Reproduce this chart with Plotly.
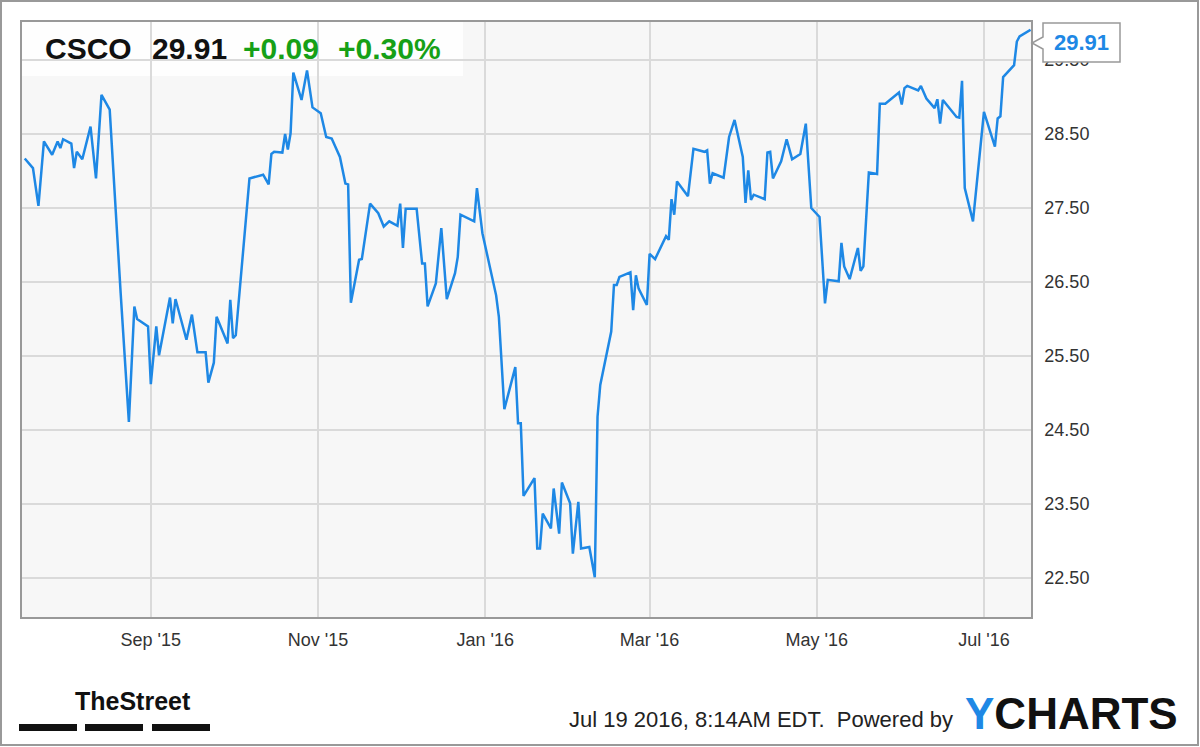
import plotly.graph_objects as go

# CSCO daily close
dates = [
    "2015-07-17", "2015-07-20", "2015-07-22", "2015-07-24", "2015-07-27", "2015-07-29",
    "2015-07-30", "2015-07-31", "2015-08-03", "2015-08-04", "2015-08-05", "2015-08-07",
    "2015-08-10", "2015-08-12", "2015-08-14", "2015-08-17", "2015-08-21", "2015-08-24",
    "2015-08-26", "2015-08-27", "2015-08-31", "2015-09-01", "2015-09-03", "2015-09-04",
    "2015-09-08", "2015-09-09", "2015-09-10", "2015-09-14", "2015-09-16", "2015-09-18",
    "2015-09-21", "2015-09-22", "2015-09-24", "2015-09-25", "2015-09-29", "2015-09-30",
    "2015-10-01", "2015-10-02", "2015-10-07", "2015-10-12", "2015-10-14", "2015-10-15",
    "2015-10-16", "2015-10-19", "2015-10-20", "2015-10-21", "2015-10-22", "2015-10-23",
    "2015-10-26", "2015-10-28", "2015-10-30", "2015-11-02", "2015-11-04", "2015-11-06",
    "2015-11-09", "2015-11-11", "2015-11-12", "2015-11-13", "2015-11-16", "2015-11-17",
    "2015-11-20", "2015-11-23", "2015-11-25", "2015-11-27", "2015-11-30", "2015-12-01",
    "2015-12-02", "2015-12-03", "2015-12-07", "2015-12-09", "2015-12-10", "2015-12-11",
    "2015-12-14", "2015-12-16", "2015-12-18", "2015-12-21", "2015-12-22", "2015-12-23",
    "2015-12-28", "2015-12-29", "2015-12-31", "2016-01-05", "2016-01-06", "2016-01-08",
    "2016-01-12", "2016-01-13", "2016-01-14", "2016-01-15", "2016-01-19", "2016-01-20",
    "2016-01-21", "2016-01-22", "2016-01-25", "2016-01-26", "2016-01-28", "2016-01-29",
    "2016-02-01", "2016-02-02", "2016-02-04", "2016-02-05", "2016-02-08", "2016-02-10",
    "2016-02-11", "2016-02-12", "2016-02-16", "2016-02-17", "2016-02-18", "2016-02-19",
    "2016-02-23", "2016-02-24", "2016-02-25", "2016-02-26", "2016-02-29", "2016-03-01",
    "2016-03-03", "2016-03-07", "2016-03-08", "2016-03-09", "2016-03-10", "2016-03-11",
    "2016-03-15", "2016-03-17", "2016-03-21", "2016-03-22", "2016-03-23", "2016-03-24",
    "2016-03-28", "2016-03-30", "2016-04-01", "2016-04-04", "2016-04-05", "2016-04-06",
    "2016-04-07", "2016-04-08", "2016-04-12", "2016-04-13", "2016-04-14", "2016-04-15",
    "2016-04-18", "2016-04-20", "2016-04-22", "2016-04-25", "2016-04-27", "2016-04-29",
    "2016-05-02", "2016-05-04", "2016-05-05", "2016-05-09", "2016-05-10", "2016-05-11",
    "2016-05-13", "2016-05-16", "2016-05-17", "2016-05-18", "2016-05-20", "2016-05-23",
    "2016-05-24", "2016-05-26", "2016-05-31", "2016-06-01", "2016-06-02", "2016-06-03",
    "2016-06-07", "2016-06-08", "2016-06-10", "2016-06-13", "2016-06-14", "2016-06-15",
    "2016-06-16", "2016-06-21", "2016-06-22", "2016-06-23", "2016-06-24", "2016-06-27",
    "2016-07-01", "2016-07-05", "2016-07-06", "2016-07-07", "2016-07-08", "2016-07-12",
    "2016-07-13", "2016-07-14", "2016-07-18",
]
prices = [
    28.17, 28.04, 27.53, 28.40, 28.22, 28.40,
    28.31, 28.43, 28.37, 28.04, 28.26, 28.16,
    28.60, 27.90, 29.03, 28.83, 26.35, 24.61,
    26.17, 26.00, 25.90, 25.12, 25.90, 25.51,
    26.29, 25.94, 26.27, 25.72, 26.06, 25.55,
    25.55, 25.14, 25.41, 26.03, 25.67, 26.26,
    25.74, 25.78, 27.90, 27.95, 27.82, 28.23,
    28.26, 28.25, 28.50, 28.29, 28.51, 29.33,
    28.96, 29.36, 28.86, 28.78, 28.46, 28.44,
    28.19, 27.83, 27.82, 26.22, 26.80, 26.81,
    27.56, 27.43, 27.25, 27.32, 27.26, 27.56,
    26.96, 27.49, 27.49, 26.75, 26.75, 26.17,
    26.48, 27.23, 26.27, 26.62, 26.84, 27.41,
    27.32, 27.77, 27.16, 26.32, 26.03, 24.78,
    25.35, 24.59, 24.59, 23.61, 23.85, 22.90,
    22.90, 23.37, 23.17, 23.71, 23.10, 23.79,
    23.51, 22.83, 23.53, 22.90, 22.92, 22.51,
    24.68, 25.11, 25.83, 26.46, 26.46, 26.57,
    26.63, 26.12, 26.59, 26.41, 26.19, 26.88,
    26.81, 27.12, 27.07, 27.62, 27.41, 27.86,
    27.66, 28.30, 28.26, 28.28, 27.83, 27.97,
    27.91, 28.46, 28.69, 28.19, 27.57, 28.01,
    27.61, 27.68, 27.62, 28.25, 28.26, 27.90,
    28.13, 28.43, 28.16, 28.23, 28.64, 27.50,
    27.38, 26.21, 26.53, 26.51, 27.03, 26.71,
    26.54, 26.96, 26.65, 26.71, 27.98, 27.96,
    28.91, 28.91, 29.06, 28.90, 29.12, 29.15,
    29.09, 29.15, 28.98, 28.85, 28.97, 28.64,
    28.96, 28.73, 28.72, 29.22, 27.77, 27.32,
    28.80, 28.33, 28.71, 28.74, 29.27, 29.43,
    29.75, 29.82, 29.91,
]

ticker = "CSCO"
last_price = "29.91"
change = "+0.09"
change_pct = "+0.30%"
y_ticks = [22.5, 23.5, 24.5, 25.5, 26.5, 27.5, 28.5, 29.5]
stamp = "Jul 19 2016, 8:14AM EDT.  Powered by"

BLUE = "#1e88e5"
GREEN = "#16a016"
FONT = "Liberation Sans, Arial, sans-serif"

# plot area in pixels: x 22..1031, y 22..617
L, R, T, B = 22, 1031, 22, 617
W, H = R - L, B - T


def px(x):
    return (x - L) / W


def py(y):
    return (B - y) / H


fig = go.Figure()
fig.add_trace(go.Scatter(
    x=dates, y=prices, mode="lines",
    line=dict(color=BLUE, width=2.5),
    hoverinfo="x+y", showlegend=False,
))

shapes = [
    # header backdrop
    dict(type="rect", xref="paper", yref="paper", layer="between",
         x0=px(22), x1=px(463), y0=py(76), y1=py(22),
         fillcolor="rgba(255,255,255,0.8)", line_width=0),
    # outer frame
    dict(type="rect", xref="paper", yref="paper",
         x0=px(1), x1=px(1198), y0=py(745), y1=py(1),
         line=dict(color="#999", width=2)),
    # callout with pointer
    dict(type="path", xref="paper", yref="paper", layer="above",
         path=(f"M {px(1043)} {py(23)} L {px(1120)} {py(23)} L {px(1120)} {py(62)} "
               f"L {px(1043)} {py(62)} L {px(1043)} {py(49)} L {px(1032)} {py(43)} "
               f"L {px(1043)} {py(37)} Z"),
         fillcolor="white", line=dict(color="#999", width=1.5)),
]
# TheStreet bars
for x0, x1 in [(19, 77), (85, 143), (152, 210)]:
    shapes.append(dict(type="rect", xref="paper", yref="paper",
                       x0=px(x0), x1=px(x1), y0=py(731), y1=py(724),
                       fillcolor="#111", line_width=0))


def label(text, x, y, size, color="#111", anchor="left"):
    return dict(text=text, x=px(x), y=py(y), xref="paper", yref="paper",
                xanchor=anchor, yanchor="middle", showarrow=False,
                font=dict(size=size, color=color, family=FONT))


annotations = [
    label(f"<b>{ticker}</b>", 43, 49, 30),
    label(f"<b>{last_price}</b>", 150, 49, 30),
    label(f"<b>{change}</b>", 241, 49, 30, GREEN),
    label(f"<b>{change_pct}</b>", 336, 49, 30, GREEN),
    label(f"<b>{last_price}</b>", 1081, 43, 22, BLUE, "center"),
    label("<b>TheStreet</b>", 133, 701, 25, anchor="center"),
    label(stamp, 955, 719, 22, "#222", "right"),
    label(f"<b><span style='color:{BLUE}'>Y</span>CHARTS</b>", 963, 713, 44),
]

fig.update_layout(
    width=1200, height=747,
    margin=dict(l=L, r=1200 - R, t=T, b=747 - B),
    paper_bgcolor="white", plot_bgcolor="#f7f7f7",
    font=dict(family=FONT, size=18, color="#333"),
    shapes=shapes, annotations=annotations,
    hovermode="x",
)
fig.update_xaxes(
    type="date", range=["2015-07-16", "2016-07-18 04:00"],
    tick0="2015-09-01", dtick="M2", tickformat="%b '%y",
    showgrid=True, gridcolor="#dadada", gridwidth=1.5,
    showline=True, linecolor="#999", linewidth=1.5, mirror=True,
    ticks="", tickfont=dict(size=18, color="#333"), ticklabelstandoff=6,
)
fig.update_yaxes(
    side="right", range=[21.973, 30.014], tickvals=y_ticks, tickformat=".2f",
    showgrid=True, gridcolor="#dadada", gridwidth=1.5,
    showline=True, linecolor="#999", linewidth=1.5, mirror=True,
    ticks="", tickfont=dict(size=18, color="#333"), ticklabelstandoff=8,
)

# the page body has a default 8px margin; drop it so the chart fills the window
fig.write_html("out.html", config={"displayModeBar": False},
               post_script="document.body.style.margin='0px';")
